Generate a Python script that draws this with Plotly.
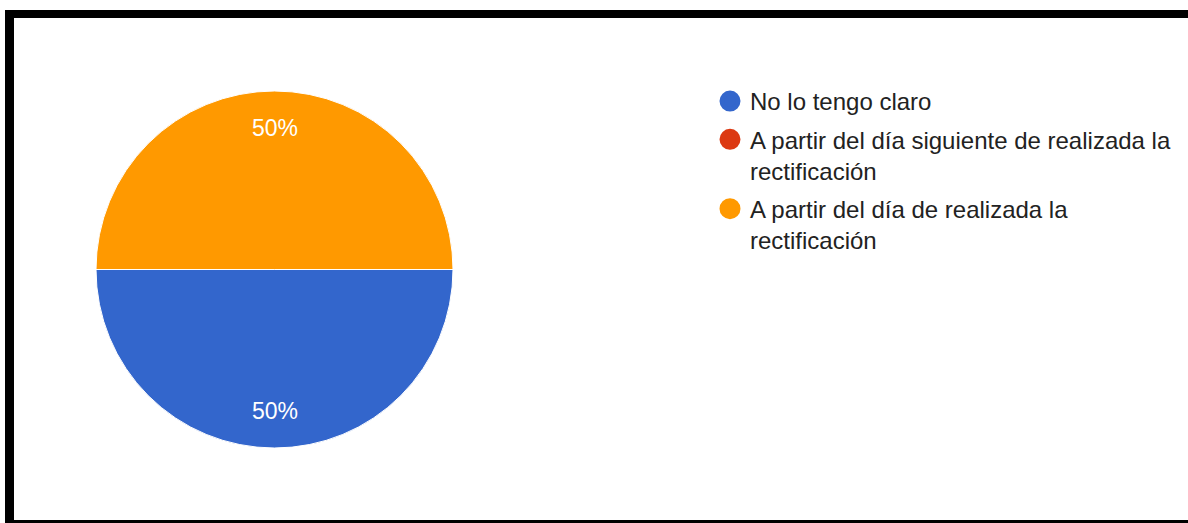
import math
import plotly.graph_objects as go

# Survey answers and their share of responses
categories = [
    "No lo tengo claro",
    "A partir del día siguiente de realizada la rectificación",
    "A partir del día de realizada la rectificación",
]
legend_labels = [
    "No lo tengo claro",
    "A partir del día siguiente de realizada la<br>rectificación",
    "A partir del día de realizada la<br>rectificación",
]
responses = [1, 0, 1]
colors = ["#3366cc", "#dc3912", "#ff9900"]

W, H = 1188, 523
FONT = "Arial, Liberation Sans, sans-serif"

# Pie placement in pixels
PIE_L, PIE_R, PIE_T, PIE_B = 96, 453, 90, 449
ROTATION = 90
LABEL_RADIUS = 0.79

fig = go.Figure()

fig.add_trace(go.Pie(
    labels=categories,
    values=responses,
    marker=dict(colors=colors, line=dict(color="white", width=1)),
    sort=False,
    direction="clockwise",
    rotation=ROTATION,
    textinfo="none",
    showlegend=False,
    hoverinfo="label+percent",
    domain=dict(x=[PIE_L / W, PIE_R / W], y=[1 - PIE_B / H, 1 - PIE_T / H]),
))

# Percentage labels placed at each slice's mid-angle
cx = (PIE_L + PIE_R) / 2
cy = (PIE_T + PIE_B) / 2
rad = min(PIE_R - PIE_L, PIE_B - PIE_T) / 2
total = sum(responses)
annotations = []
start = 90 - ROTATION  # degrees, counter-clockwise from east
for v in responses:
    sweep = 360 * v / total
    if v > 0:
        mid = math.radians(start - sweep / 2)
        px = cx + LABEL_RADIUS * rad * math.cos(mid)
        py = cy - LABEL_RADIUS * rad * math.sin(mid)
        annotations.append(dict(
            x=px / W, y=1 - py / H, xref="paper", yref="paper",
            text=f"{round(100 * v / total)}%", showarrow=False,
            font=dict(family=FONT, size=23, color="white"),
            xanchor="center", yanchor="middle",
        ))
    start -= sweep

# Legend entries with round swatches
for i, (lab, col) in enumerate(zip(legend_labels, colors)):
    fig.add_trace(go.Scatter(
        x=[None], y=[None], mode="markers", name=lab,
        legendgroup=f"g{i}",
        marker=dict(symbol="circle", size=16, color=col,
                    line=dict(color=col, width=5)),
        hoverinfo="skip",
    ))

# Black frame around the chart area
frame = [
    (5, 10, W + 5, 18),     # top band
    (5, 10, 14, H + 5),     # left band
    (5, 520, W + 5, H + 5), # bottom line
]
shapes = [
    dict(type="rect", xref="paper", yref="paper",
         x0=x0 / W, x1=x1 / W, y0=1 - y1 / H, y1=1 - y0 / H,
         fillcolor="black", line=dict(width=0), layer="above")
    for x0, y0, x1, y1 in frame
]

fig.update_layout(
    width=W, height=H,
    margin=dict(l=0, r=0, t=0, b=0),
    paper_bgcolor="white", plot_bgcolor="white",
    xaxis=dict(visible=False), yaxis=dict(visible=False),
    shapes=shapes,
    annotations=annotations,
    legend=dict(
        x=710 / W, y=1 - 79 / H, xanchor="left", yanchor="top",
        font=dict(family=FONT, size=24, color="#222222"),
        valign="top", traceorder="grouped", tracegroupgap=4,
        bgcolor="rgba(0,0,0,0)",
    ),
    showlegend=True,
)

fig.write_html("out.html")
